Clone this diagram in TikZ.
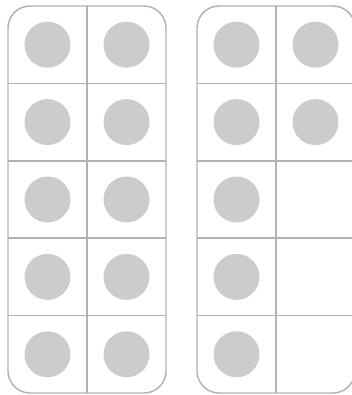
\documentclass[tikz,border=0pt]{standalone}
\begin{document}
\begin{tikzpicture}[x=0.75pt,y=-0.75pt,
  frameline/.style={draw=black!30, line width=1.1pt},
  dot/.style={fill=black!20, draw=none}]
\useasboundingbox (0,0) rectangle (352,395);
\clip (0,0) rectangle (352,395);
\foreach \fx in {8, 197} {
  \draw[frameline, rounded corners=16.5pt] (\fx,6) rectangle (\fx+158,393);
  \draw[frameline] (\fx+79,6) -- (\fx+79,393);
  \foreach \r in {1,...,4} {
    \draw[frameline] (\fx,6+77.4*\r) -- (\fx+158,6+77.4*\r);
  }
}
\foreach \r in {0,...,4} {
  \fill[dot] (47.5,44.7+77.4*\r) circle (23);
  \fill[dot] (126.5,44.7+77.4*\r) circle (23);
  \fill[dot] (236.5,44.7+77.4*\r) circle (23);
}
\foreach \r in {0,1} {
  \fill[dot] (315.5,44.7+77.4*\r) circle (23);
}
\end{tikzpicture}
\end{document}
